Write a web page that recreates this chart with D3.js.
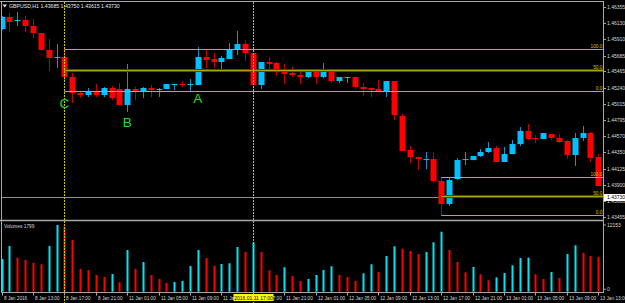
<!DOCTYPE html>
<html><head><meta charset="utf-8">
<script src="https://cdn.jsdelivr.net/npm/d3@7"></script>
<style>html,body{margin:0;padding:0;background:#000;overflow:hidden}svg{display:block}</style>
</head><body><svg id="c" width="625" height="303"></svg>
<script>
const chartTitle = "GBPUSD,H1  1.43685 1.43750 1.43615 1.43730";
const opens = [1.46052,1.46217,1.46162,1.46176,1.46093,1.45996,1.45762,1.45651,1.45665,1.45389,
1.45168,1.45140,1.45195,1.45140,1.45237,1.45223,1.45002,1.45223,1.45182,1.45237,
1.45209,1.45223,1.45278,1.45292,1.45278,1.45278,1.45665,1.45637,1.45596,1.45637,
1.45775,1.45844,1.45720,1.45278,1.45596,1.45582,1.45485,1.45444,1.45416,1.45389,
1.45458,1.45389,1.45485,1.45333,1.45375,1.45389,1.45251,1.45237,1.45223,1.45195,
1.45333,1.44850,1.44381,1.44284,1.44242,1.44256,1.43952,1.43635,1.43980,1.44242,
1.44242,1.44298,1.44353,1.44408,1.44215,1.44325,1.44463,1.44643,1.44546,1.44532,
1.44602,1.44546,1.44505,1.44311,1.44546,1.44615,1.44284];
const highs = [1.46231,1.46272,1.46286,1.46231,1.46190,1.45996,1.45913,1.45844,1.45762,1.45444,
1.45182,1.45237,1.45292,1.45251,1.45264,1.45306,1.45568,1.45251,1.45251,1.45278,
1.45237,1.45292,1.45292,1.45333,1.45361,1.45803,1.45762,1.45720,1.45679,1.45858,
1.46024,1.45900,1.45720,1.45596,1.45665,1.45596,1.45568,1.45527,1.45485,1.45499,
1.45458,1.45582,1.45485,1.45389,1.45389,1.45389,1.45306,1.45237,1.45347,1.45333,
1.45333,1.44878,1.44436,1.44284,1.44353,1.44353,1.44008,1.43994,1.44270,1.44353,
1.44298,1.44394,1.44491,1.44436,1.44422,1.44519,1.44698,1.44740,1.44588,1.44615,
1.44602,1.44602,1.44519,1.44615,1.44712,1.44629,1.44325];
const lows = [1.46038,1.46010,1.46093,1.46010,1.45927,1.45748,1.45472,1.45513,1.45347,1.45030,
1.45099,1.45112,1.45112,1.45112,1.45071,1.45002,1.44905,1.45071,1.45099,1.45112,
1.45112,1.45223,1.45209,1.45251,1.45182,1.45278,1.45513,1.45513,1.45499,1.45637,
1.45692,1.45610,1.45278,1.45223,1.45472,1.45402,1.45292,1.45389,1.45292,1.45375,
1.45292,1.45375,1.45306,1.45306,1.45306,1.45223,1.45126,1.45112,1.45195,1.45112,
1.44795,1.44367,1.44201,1.44104,1.44118,1.43925,1.43483,1.43607,1.43966,1.44173,
1.44242,1.44284,1.44339,1.44215,1.44215,1.44325,1.44436,1.44519,1.44477,1.44532,
1.44519,1.44477,1.44256,1.44160,1.44505,1.44215,1.43883];
const closes = [1.46217,1.46148,1.46176,1.46093,1.45996,1.45762,1.45651,1.45665,1.45389,1.45168,
1.45140,1.45195,1.45140,1.45237,1.45099,1.45002,1.45223,1.45182,1.45237,1.45209,
1.45223,1.45292,1.45292,1.45278,1.45292,1.45665,1.45623,1.45596,1.45651,1.45775,
1.45844,1.45720,1.45278,1.45596,1.45568,1.45472,1.45430,1.45416,1.45389,1.45458,
1.45389,1.45485,1.45333,1.45389,1.45389,1.45251,1.45223,1.45209,1.45195,1.45333,
1.44864,1.44367,1.44284,1.44256,1.44256,1.43952,1.43635,1.43966,1.44242,1.44256,
1.44298,1.44353,1.44408,1.44215,1.44325,1.44463,1.44643,1.44532,1.44532,1.44615,
1.44546,1.44491,1.44311,1.44546,1.44615,1.44270,1.43883];
const volumes = [5958,8327,6195,5776,5284,4992,8327,12153,11843,9420,
4136,3954,3043,2678,3225,1713,7598,4136,5411,3043,
2314,1585,1767,1950,4683,7598,6140,4737,5047,5174,
8144,7233,9000,7233,3899,3043,4446,2860,1950,2314,
3043,3954,4628,3043,2678,1950,3352,4992,3589,6505,
8272,7835,7416,6869,7233,9000,10932,7598,5411,3535,
4500,3170,2077,2624,3407,4810,6140,6200,3170,2314,
3589,2496,6869,8454,7106,6505,6322];
const priceTicks = [1.46355,1.46130,1.45910,1.45685,1.45465,1.45240,1.45015,1.44795,1.44570,1.44350,1.44125,1.43900,1.43680,1.43455];
const timeTickIndex = [0,4,8,12,16,20,24,28,32,36,40,44,48,52,56,60,64,68,72,76];
const timeTickLabels = ["8 Jan 2016","8 Jan 13:00","8 Jan 17:00","8 Jan 21:00","11 Jan 01:00","11 Jan 05:00","11 Jan 09:00","11 Jan 13:00","11 Jan 17:00","11 Jan 21:00","12 Jan 01:00","12 Jan 05:00","12 Jan 09:00","12 Jan 13:00","12 Jan 17:00","12 Jan 21:00","13 Jan 01:00","13 Jan 05:00","13 Jan 09:00","13 Jan 13:00"];
const fibStartIndex = [8, 56];
const fibHighPrice = [1.45775, 1.44008];
const fibLowPrice = [1.45195, 1.43483];
const fibLevels = [0, 50, 100];
const vLineIndex = [8, 32];
const markTexts = ["C", "B", "A"];
const markIndex = [8, 16, 25];
const markPrice = [1.44961, 1.44698, 1.45030];
const bidPrice = 1.43730;
const volumeTitle = "Volumes 1799";
const volumeMax = 12153;
const cursorIndex = 32;
const cursorLabel = "2016.01.11 17:00";

const W = 625, H = 303, R = 603;
const svg = d3.select("#c");
svg.append("rect").attr("width", W).attr("height", H).attr("fill", "#000");
const x = d3.scaleLinear().domain([0, 76]).range([1.6, 598.2]);
const y = d3.scaleLinear().domain([1.43428, 1.46438]).range([219, 1]);
const yv = d3.scaleLinear().domain([0, volumeMax]).range([291.7, 225]);
const font = "'Liberation Sans', Arial, sans-serif";
const data = opens.map((o, i) => ({i, o, h: highs[i], l: lows[i], c: closes[i], v: volumes[i]}));

const defs = svg.append("defs");
defs.append("clipPath").attr("id", "mainClip").append("rect").attr("x", 2).attr("y", 2).attr("width", R - 2).attr("height", 217);
defs.append("clipPath").attr("id", "volClip").append("rect").attr("x", 2).attr("y", 222).attr("width", R - 2).attr("height", 70);
defs.append("clipPath").attr("id", "axisClip").append("rect").attr("x", 0).attr("y", 293).attr("width", W).attr("height", 10);

// bid line
svg.append("line").attr("x1", 1).attr("x2", R).attr("y1", Math.round(y(bidPrice)) + 0.5).attr("y2", Math.round(y(bidPrice)) + 0.5)
  .attr("stroke", "#8c8c8c").attr("stroke-width", 1);

const main = svg.append("g").attr("clip-path", "url(#mainClip)");
// candles
const cg = main.append("g");
data.forEach(d => {
  const up = d.c >= d.o;
  const cx = Math.round(x(d.i)) + 0.5;
  cg.append("line").attr("x1", cx).attr("x2", cx).attr("y1", y(d.h)).attr("y2", y(d.l))
    .attr("stroke", up ? "#1c8fd0" : "#c00000").attr("stroke-width", 1);
  const top = y(Math.max(d.o, d.c)), bot = y(Math.min(d.o, d.c));
  cg.append("rect").attr("x", cx - 3).attr("width", 6).attr("y", top).attr("height", Math.max(1, bot - top))
    .attr("fill", up ? "#00c0ff" : "#ff0000");
});

// fibonacci levels
fibStartIndex.forEach((si, k) => {
  fibLevels.forEach(lv => {
    const p = fibLowPrice[k] + (fibHighPrice[k] - fibLowPrice[k]) * lv / 100;
    const yy = Math.round(y(p)) + 0.5;
    const x0 = x(si);
    if (lv === 50) {
      main.append("line").attr("x1", x0).attr("x2", R).attr("y1", yy).attr("y2", yy).attr("stroke", "#4d4d00").attr("stroke-width", 3);
    }
    main.append("line").attr("x1", x0).attr("x2", R).attr("y1", yy).attr("y2", yy).attr("stroke", lv === 50 ? "#a8a800" : "#b8b800").attr("stroke-width", 1);
    svg.append("text").attr("x", R - 0.5).attr("y", yy - 1.5).attr("text-anchor", "end")
      .attr("font-family", font).attr("font-size", 4.8).attr("fill", "#c8c800").text(lv.toFixed(1));
  });
});

// volumes
const vg = svg.append("g").attr("clip-path", "url(#volClip)");
data.forEach((d, i) => {
  const up = i === 0 || d.v >= volumes[i - 1];
  const cx = Math.round(x(d.i));
  vg.append("rect").attr("x", cx - 0.5).attr("width", 2).attr("y", yv(d.v)).attr("height", yv(0) - yv(d.v))
    .attr("fill", up ? "#00e4f4" : "#ff0000");
});

// vertical dotted lines
vLineIndex.forEach(vi => {
  const xx = Math.round(x(vi)) + 0.5;
  svg.append("line").attr("x1", xx).attr("x2", xx).attr("y1", 2).attr("y2", H)
    .attr("stroke", "#c8c800").attr("stroke-width", 1).attr("stroke-dasharray", "2,1");
});

// marks
markTexts.forEach((t, k) => {
  svg.append("text").attr("x", x(markIndex[k])).attr("y", y(markPrice[k])).attr("text-anchor", "middle")
    .attr("font-family", font).attr("font-size", 13.5).attr("fill", "#22dd22").text(t);
});

// frame
const gray = "#a8a8a8";
svg.append("line").attr("x1", 0).attr("x2", R + 1).attr("y1", 1.5).attr("y2", 1.5).attr("stroke", gray);
svg.append("line").attr("x1", 1.5).attr("x2", 1.5).attr("y1", 1).attr("y2", 293).attr("stroke", gray);
svg.append("line").attr("x1", R + 0.5).attr("x2", R + 0.5).attr("y1", 1).attr("y2", 293).attr("stroke", gray);
svg.append("line").attr("x1", 0).attr("x2", R + 1).attr("y1", 220.5).attr("y2", 220.5).attr("stroke", gray).attr("stroke-width", 1.6);
svg.append("line").attr("x1", 1).attr("x2", R + 1).attr("y1", 292.5).attr("y2", 292.5).attr("stroke", gray);

// price axis
priceTicks.forEach(p => {
  const yy = Math.round(y(p)) + 0.5;
  svg.append("line").attr("x1", R).attr("x2", R + 3).attr("y1", yy).attr("y2", yy).attr("stroke", gray);
  svg.append("text").attr("x", 607).attr("y", yy + 1.8).attr("font-family", font).attr("font-size", 5)
    .attr("fill", "#d8d8d8").text(p.toFixed(5));
});
// bid label box
const by = Math.round(y(bidPrice)) + 0.5;
svg.append("rect").attr("x", R + 1).attr("y", by - 3.5).attr("width", 22).attr("height", 7).attr("fill", "#ffffff");
svg.append("text").attr("x", 607).attr("y", by + 1.8).attr("font-family", font).attr("font-size", 5).attr("fill", "#000").text(bidPrice.toFixed(5));
// volume axis
[[volumeMax, yv(volumeMax)], [0, yv(0) - 2.5]].forEach(([v, yy]) => {
  svg.append("line").attr("x1", R).attr("x2", R + 3).attr("y1", yy).attr("y2", yy).attr("stroke", gray);
  svg.append("text").attr("x", 607).attr("y", yy + 1.8).attr("font-family", font).attr("font-size", 5)
    .attr("fill", "#d8d8d8").text(String(v));
});
svg.append("text").attr("x", 4).attr("y", 228).attr("font-family", font).attr("font-size", 4.8)
  .attr("fill", "#d8d8d8").text(volumeTitle);

// time axis
timeTickIndex.forEach((ti, k) => {
  const xx = Math.round(x(ti)) + 0.5;
  svg.append("line").attr("x1", xx).attr("x2", xx).attr("y1", 292).attr("y2", 295.5).attr("stroke", gray);
  svg.append("text").attr("x", xx + 1.5).attr("y", 299.5).attr("font-family", font).attr("font-size", 4.7)
    .attr("fill", "#d8d8d8").text(timeTickLabels[k]);
});
const cx0 = Math.round(x(cursorIndex)) + 0.5;
svg.append("rect").attr("x", cx0 - 20).attr("y", 294).attr("width", 40).attr("height", 7).attr("fill", "#ffff00");
svg.append("text").attr("x", cx0).attr("y", 299.5).attr("text-anchor", "middle").attr("font-family", font).attr("font-size", 5)
  .attr("fill", "#000").text(cursorLabel);

// title
svg.append("path").attr("d", "M2.5,4.5 L7,4.5 L4.75,7.5 Z").attr("fill", "#e0e0e0");
svg.append("text").attr("x", 9).attr("y", 7.5).attr("font-family", font).attr("font-size", 5.2)
  .attr("fill", "#e8e8e8").text(chartTitle);
</script></body></html>
